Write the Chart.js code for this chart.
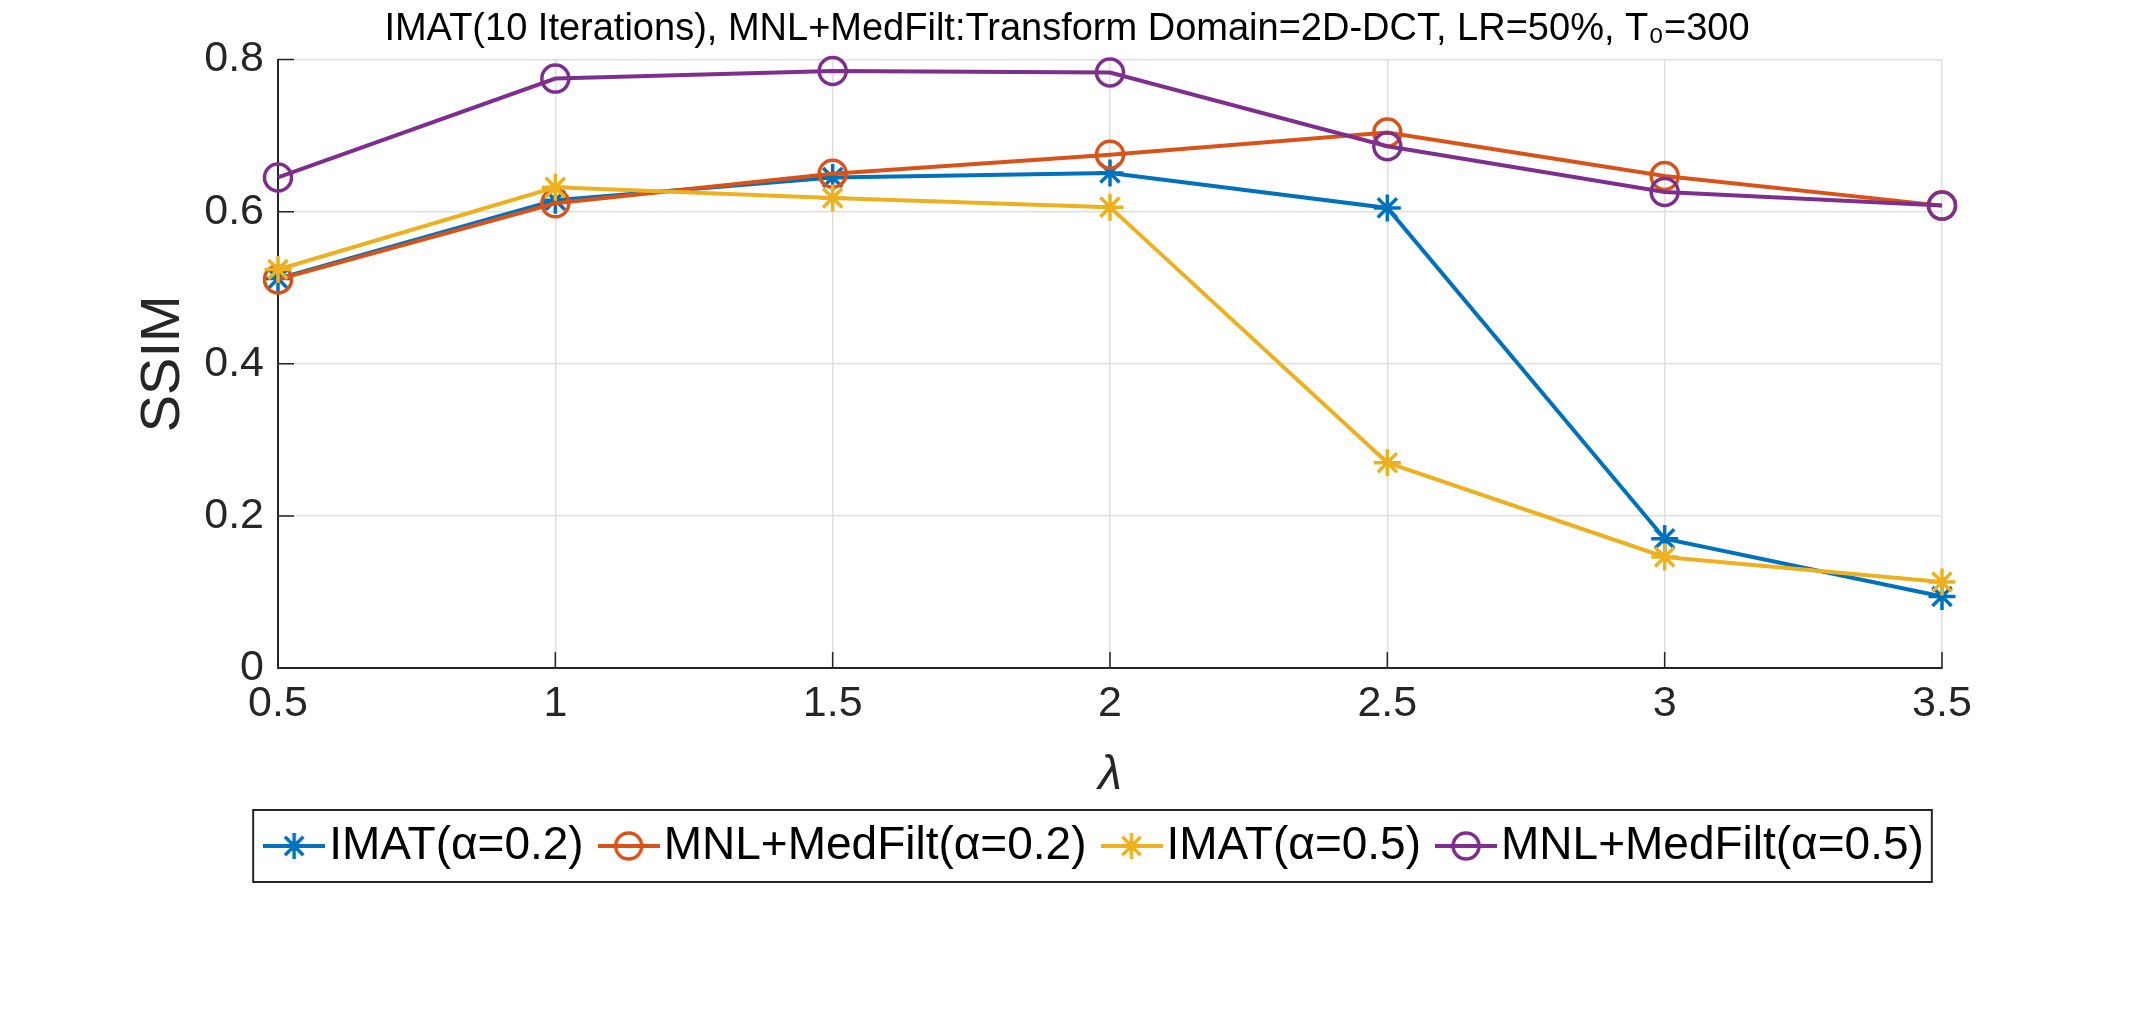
<!DOCTYPE html>
<html>
<head>
<meta charset="utf-8">
<script src="https://cdn.jsdelivr.net/npm/chart.js@4.4.1/dist/chart.umd.min.js"></script>
<style>
html, body { margin: 0; padding: 0; background: #fff; overflow: hidden; }
#wrap { width: 2134px; height: 1017px; }
</style>
</head>
<body>
<div id="wrap"><canvas id="myChart"></canvas></div>
<script>
// values
var lambdas = [0.5, 1, 1.5, 2, 2.5, 3, 3.5];
var imat02 = [0.512, 0.615, 0.645, 0.651, 0.605, 0.170, 0.094];
var mnl02 = [0.511, 0.611, 0.650, 0.675, 0.704, 0.647, 0.608];
var imat05 = [0.524, 0.632, 0.618, 0.606, 0.270, 0.146, 0.113];
var mnl05 = [0.645, 0.775, 0.785, 0.783, 0.686, 0.626, 0.608];
var yTicks = [0, 0.2, 0.4, 0.6, 0.8];

var seriesNames = ['IMAT(α=0.2)', 'MNL+MedFilt(α=0.2)', 'IMAT(α=0.5)', 'MNL+MedFilt(α=0.5)'];
var seriesValues = [imat02, mnl02, imat05, mnl05];
var seriesColors = ['#0072BD', '#D95319', '#EDB120', '#7E2F8E'];
var seriesMarkers = ['star', 'circle', 'star', 'circle'];

var axisColor = '#262626';
var fontFamily = '"Liberation Sans", Arial, Helvetica, sans-serif';

// small line+marker picture for the legend, like matlab does
function legendIcon(color, marker) {
  var c = document.createElement('canvas');
  c.width = 62; c.height = 34;
  var g = c.getContext('2d');
  g.strokeStyle = color;
  g.lineWidth = 4;
  g.beginPath(); g.moveTo(0, 17); g.lineTo(62, 17); g.stroke();
  var r = 13;
  g.lineWidth = 3.5;
  g.beginPath();
  if (marker === 'circle') {
    g.arc(31, 17, r, 0, Math.PI * 2);
  } else {
    for (var k = 0; k < 4; k++) {
      var a = k * Math.PI / 4;
      g.moveTo(31 - Math.cos(a) * r, 17 - Math.sin(a) * r);
      g.lineTo(31 + Math.cos(a) * r, 17 + Math.sin(a) * r);
    }
  }
  g.stroke();
  return c;
}
var legendIcons = seriesColors.map(function (c, i) { return legendIcon(c, seriesMarkers[i]); });

var datasets = seriesNames.map(function (name, i) {
  return {
    label: name,
    data: lambdas.map(function (x, j) { return { x: x, y: seriesValues[i][j] }; }),
    borderColor: seriesColors[i],
    backgroundColor: seriesColors[i],
    borderWidth: 4,
    pointStyle: seriesMarkers[i],
    pointRadius: 13.5,
    pointHoverRadius: 13.5,
    pointBorderWidth: 3.5,
    pointBackgroundColor: 'rgba(0,0,0,0)',
    pointBorderColor: seriesColors[i],
    tension: 0,
    clip: false,
    order: seriesNames.length - 1 - i
  };
});

// matlab style ticks pointing into the axes
var inwardTicks = {
  id: 'inwardTicks',
  beforeDatasetsDraw: function (chart) {
    var ctx = chart.ctx, area = chart.chartArea;
    var xs = chart.scales.x, ys = chart.scales.y;
    ctx.save();
    ctx.strokeStyle = axisColor;
    ctx.lineWidth = 1.5;
    ctx.beginPath();
    ys.ticks.forEach(function (t) {
      var py = ys.getPixelForValue(t.value);
      ctx.moveTo(area.left, py); ctx.lineTo(area.left + 16, py);
    });
    xs.ticks.forEach(function (t) {
      var px = xs.getPixelForValue(t.value);
      ctx.moveTo(px, area.bottom); ctx.lineTo(px, area.bottom - 16);
    });
    ctx.stroke();
    ctx.restore();
  }
};

// legend sits a bit right of the figure centre in the original
var legendShift = {
  id: 'legendShift',
  afterLayout: function (chart) {
    if (!chart.legend) return;
    chart.legend.left += 36;
    chart.legend.right += 36;
  }
};

var legendBorder = {
  id: 'legendBorder',
  afterDraw: function (chart) {
    var boxes = chart.legend && chart.legend.legendHitBoxes;
    if (!boxes || !boxes.length) return;
    var first = boxes[0], last = boxes[boxes.length - 1];
    var cy = first.top + first.height / 2;
    var ctx = chart.ctx;
    ctx.save();
    ctx.strokeStyle = axisColor;
    ctx.lineWidth = 2;
    var left = first.left - 19 - 10;
    var right = last.left + last.width + 8;
    ctx.strokeRect(left, cy - 36, right - left, 72);
    ctx.restore();
  }
};

var ctx = document.getElementById('myChart');
var myChart = new Chart(ctx, {
  type: 'line',
  data: { datasets: datasets },
  plugins: [inwardTicks, legendShift, legendBorder],
  options: {
    responsive: true,
    maintainAspectRatio: false,
    animation: false,
    devicePixelRatio: 1,
    layout: { padding: { left: 0, right: 0, top: 0, bottom: 138 } },
    plugins: {
      title: {
        display: true,
        text: 'IMAT(10 Iterations), MNL+MedFilt:Transform Domain=2D-DCT, LR=50%, T₀=300',
        color: '#000',
        font: { family: fontFamily, size: 38, weight: 'normal', lineHeight: 1.2 },
        padding: { top: 7, bottom: 7 }
      },
      legend: {
        position: 'bottom',
        labels: {
          usePointStyle: true,
          pointStyleWidth: 24,
          padding: 33,
          color: '#000',
          font: { family: fontFamily, size: 46 },
          sort: function (a, b) { return a.datasetIndex - b.datasetIndex; },
          generateLabels: function (chart) {
            var items = Chart.defaults.plugins.legend.labels.generateLabels(chart);
            items.forEach(function (it) {
              it.pointStyle = legendIcons[it.datasetIndex];
              it.fontColor = '#000';
            });
            return items;
          }
        }
      },
      tooltip: { enabled: false }
    },
    scales: {
      x: {
        type: 'linear',
        min: 0.5,
        max: 3.5,
        afterBuildTicks: function (s) { s.ticks = lambdas.map(function (v) { return { value: v }; }); },
        afterFit: function (s) { s.height = 122; },
        grid: { color: '#dfdfdf', lineWidth: 1.5, drawTicks: false },
        border: { color: axisColor, width: 2 },
        ticks: {
          color: axisColor, padding: 10, maxRotation: 0,
          font: { family: fontFamily, size: 43 },
          callback: function (v) { return String(v); }
        },
        title: {
          display: true,
          text: 'λ',
          color: axisColor,
          font: { family: fontFamily, size: 48, style: 'italic', lineHeight: 1 },
          padding: { top: 0, bottom: -10 }
        }
      },
      y: {
        min: 0,
        max: 0.8,
        afterBuildTicks: function (s) { s.ticks = yTicks.map(function (v) { return { value: v }; }); },
        afterFit: function (s) { s.width = 278; },
        grid: { color: '#dfdfdf', lineWidth: 1.5, drawTicks: false },
        border: { color: axisColor, width: 2 },
        ticks: { color: axisColor, padding: 14, font: { family: fontFamily, size: 43 } },
        title: {
          display: true,
          text: 'SSIM',
          color: axisColor,
          font: { family: fontFamily, size: 56, lineHeight: 1.2 },
          padding: { top: 130, bottom: 0 }
        }
      },
      yRight: {
        position: 'right',
        min: 0,
        max: 0.8,
        afterFit: function (s) { s.width = 192; },
        grid: { display: false, drawTicks: false },
        border: { display: false },
        ticks: { display: false }
      }
    }
  }
});
</script>
</body>
</html>
